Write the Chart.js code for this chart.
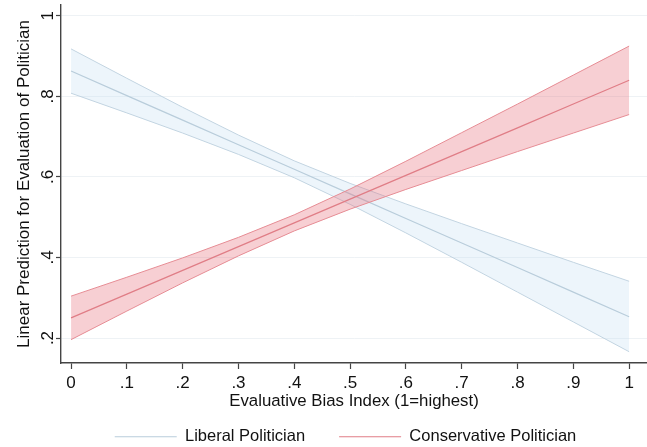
<!DOCTYPE html>
<html>
<head>
<meta charset="utf-8">
<script src="https://cdn.jsdelivr.net/npm/chart.js@4"></script>
<style>
    html, body { margin: 0; padding: 0; background: #fff; }
    #wrap { width: 647px; height: 447px; position: relative; }
</style>
</head>
<body>
<div id="wrap"><canvas id="marginsChart"></canvas></div>
<script>
// Values
const biasIndex = [0, 0.1, 0.2, 0.3, 0.4, 0.5, 0.6, 0.7, 0.8, 0.9, 1];

const liberalMean  = [0.863, 0.802, 0.741, 0.680, 0.619, 0.558, 0.497, 0.436, 0.375, 0.314, 0.253];
const liberalUpper = [0.918, 0.845, 0.773, 0.704, 0.640, 0.584, 0.533, 0.484, 0.436, 0.388, 0.341];
const liberalLower = [0.808, 0.759, 0.709, 0.656, 0.598, 0.532, 0.461, 0.388, 0.314, 0.240, 0.166];

const conservMean  = [0.250, 0.309, 0.368, 0.427, 0.486, 0.545, 0.604, 0.663, 0.722, 0.781, 0.840];
const conservUpper = [0.304, 0.351, 0.399, 0.450, 0.506, 0.570, 0.639, 0.710, 0.781, 0.853, 0.925];
const conservLower = [0.196, 0.267, 0.337, 0.404, 0.466, 0.520, 0.569, 0.616, 0.663, 0.709, 0.755];

const xTickValues = [0, 0.1, 0.2, 0.3, 0.4, 0.5, 0.6, 0.7, 0.8, 0.9, 1];
const yTickValues = [0.2, 0.4, 0.6, 0.8, 1];

const FONT = "'Liberation Sans', Arial, Helvetica, sans-serif";
const AXIS = '#444';
const TXT = '#111';

function pts(ys) {
    return biasIndex.map((x, i) => ({ x: x, y: ys[i] }));
}

// Stata style labels: .2 instead of 0.2
function stataLabel(v) {
    const s = String(Math.round(v * 10) / 10);
    return s.replace(/^0\./, '.');
}

const lineBase = { pointRadius: 0, tension: 0, fill: false };

// nudges legend + x title into the spots Stata uses
const layoutNudge = {
    id: 'layoutNudge',
    afterLayout(chart) {
        const lg = chart.legend;
        if (lg) {
            lg.left += 22; lg.right += 22;
            lg.top += 8; lg.bottom += 8;
        }
        chart.scales.x.bottom = 411;
    }
};

const ctx = document.getElementById('marginsChart').getContext('2d');
new Chart(ctx, {
    type: 'line',
    data: {
        datasets: [
            { ...lineBase, label: 'Liberal Politician', data: pts(liberalMean), borderColor: '#b9cddb', borderWidth: 1.2, order: 2 },
            { ...lineBase, label: '', data: pts(liberalUpper), borderColor: '#c2d4e1', borderWidth: 1, order: 2 },
            { ...lineBase, label: '', data: pts(liberalLower), borderColor: '#c2d4e1', borderWidth: 1, order: 2,
              fill: '-1', backgroundColor: 'rgba(195, 222, 242, 0.3)' },
            { ...lineBase, label: 'Conservative Politician', data: pts(conservMean), borderColor: '#e07d86', borderWidth: 1.2, order: 1 },
            { ...lineBase, label: '', data: pts(conservUpper), borderColor: '#e68c94', borderWidth: 1, order: 1 },
            { ...lineBase, label: '', data: pts(conservLower), borderColor: '#e68c94', borderWidth: 1, order: 1,
              fill: '-1', backgroundColor: 'rgba(232, 110, 122, 0.33)' }
        ]
    },
    options: {
        responsive: true,
        maintainAspectRatio: false,
        animation: false,
        layout: { padding: { top: 5, left: 0, right: 0, bottom: 0 } },
        plugins: {
            tooltip: { enabled: false },
            legend: {
                position: 'bottom',
                labels: {
                    filter: item => item.text !== '',
                    sort: (a, b) => a.datasetIndex - b.datasetIndex,
                    usePointStyle: true,
                    pointStyle: 'line',
                    pointStyleWidth: 62,
                    padding: 34,
                    color: TXT,
                    font: { family: FONT, size: 16.5 }
                }
            }
        },
        scales: {
            x: {
                type: 'linear',
                min: -0.018,
                max: 1.032,
                afterBuildTicks: s => { s.ticks = xTickValues.map(v => ({ value: v })); },
                afterFit: s => { s.height = 23.5; s.paddingRight = 0; s.paddingLeft = 0; },
                ticks: {
                    callback: v => stataLabel(v),
                    color: TXT,
                    padding: 4,
                    maxRotation: 0,
                    font: { family: FONT, size: 17 }
                },
                grid: { drawOnChartArea: false, tickColor: AXIS, tickLength: 6, tickWidth: 1.2 },
                border: { display: true, color: AXIS, width: 1.4 },
                title: {
                    display: true,
                    text: 'Evaluative Bias Index (1=highest)',
                    color: TXT,
                    padding: { top: 0, bottom: 0 },
                    font: { family: FONT, size: 16.8 }
                }
            },
            y: {
                min: 0.138,
                max: 1.027,
                afterBuildTicks: s => { s.ticks = yTickValues.map(v => ({ value: v })); },
                afterFit: s => { s.width = 61; s.paddingTop = 0; s.paddingBottom = 0; },
                ticks: {
                    callback: v => stataLabel(v),
                    color: TXT,
                    padding: 1,
                    minRotation: 90,
                    maxRotation: 90,
                    crossAlign: 'center',
                    font: { family: FONT, size: 17 }
                },
                grid: { color: '#eef2f5', lineWidth: 1, tickColor: AXIS, tickLength: 5, tickWidth: 1.2 },
                border: { display: true, color: AXIS, width: 1.4 },
                title: {
                    display: true,
                    text: 'Linear Prediction for Evaluation of Politician',
                    color: TXT,
                    padding: { top: 14, bottom: 0 },
                    font: { family: FONT, size: 17 }
                }
            }
        }
    },
    plugins: [layoutNudge]
});
</script>
</body>
</html>
